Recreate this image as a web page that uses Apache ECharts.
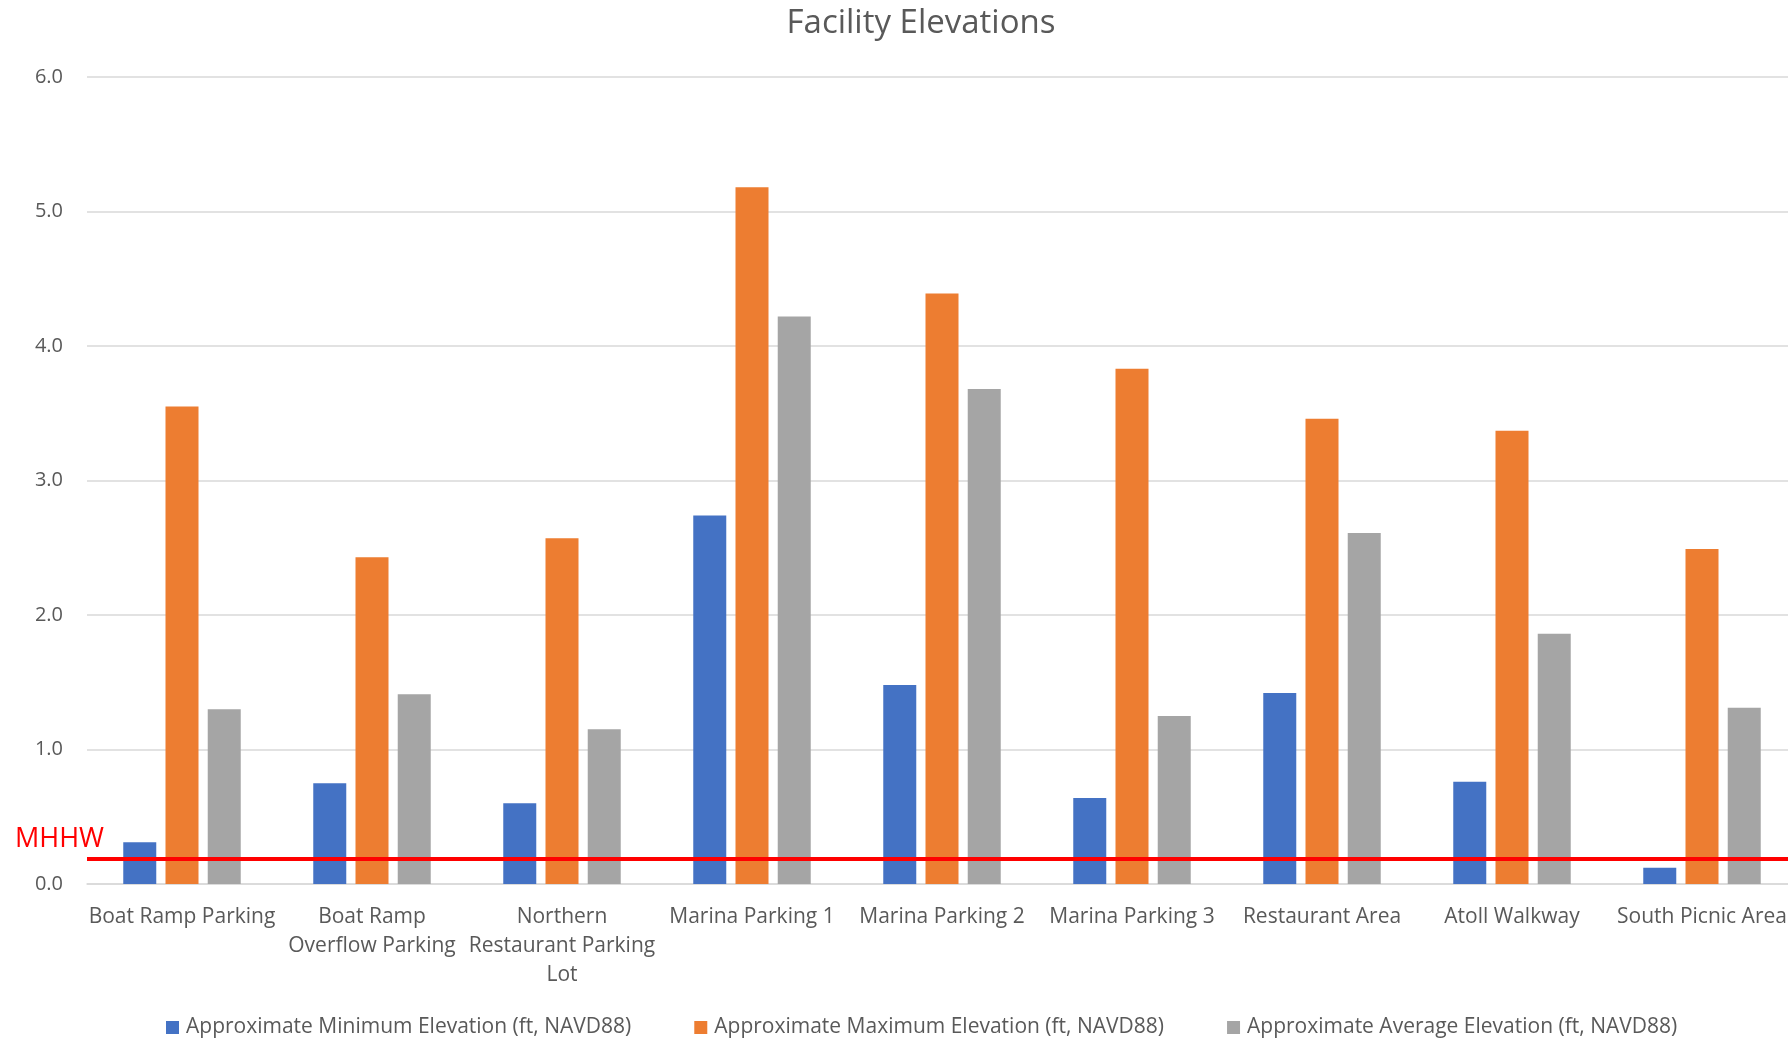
<!DOCTYPE html>
<html>
<head>
<meta charset="utf-8">
<title>Facility Elevations</title>
<script src="https://cdn.jsdelivr.net/npm/echarts@6/dist/echarts.min.js"></script>
<style>
  html, body { margin: 0; padding: 0; background: #ffffff; }
  #chart { width: 1788px; height: 1040px; }
</style>
</head>
<body>
<div id="chart"></div>
<script>
// Facilities (axis labels carry their own line breaks)
const categories = [
  'Boat Ramp Parking',
  'Boat Ramp\nOverflow Parking',
  'Northern\nRestaurant Parking\nLot',
  'Marina Parking 1',
  'Marina Parking 2',
  'Marina Parking 3',
  'Restaurant Area',
  'Atoll Walkway',
  'South Picnic Area'
];

// Elevations in ft, NAVD88
const minElevation = [0.31, 0.75, 0.60, 2.74, 1.48, 0.64, 1.42, 0.76, 0.12];
const maxElevation = [3.55, 2.43, 2.57, 5.18, 4.39, 3.83, 3.46, 3.37, 2.49];
const avgElevation = [1.30, 1.41, 1.15, 4.22, 3.68, 1.25, 2.61, 1.86, 1.31];

// Mean higher high water reference level
const mhhwLevel = 0.19;

// Value axis ticks
const yTicks = [0, 1, 2, 3, 4, 5, 6];

const seriesNames = [
  'Approximate Minimum Elevation (ft, NAVD88)',
  'Approximate Maximum Elevation (ft, NAVD88)',
  'Approximate Average Elevation (ft, NAVD88)'
];

const FONT = '"Open Sans", "Noto Sans", sans-serif';
const TEXT_COLOR = '#595959';
const GRID_COLOR = '#d9d9d9';

const chart = echarts.init(document.getElementById('chart'), null, { renderer: 'canvas' });

chart.setOption({
  animation: false,
  backgroundColor: '#ffffff',
  color: ['#4472C4', '#ED7D31', '#A5A5A5'],
  textStyle: { fontFamily: FONT },
  title: {
    text: 'Facility Elevations',
    left: 916,
    textAlign: 'center',
    top: 2,
    textStyle: { fontFamily: FONT, fontSize: 33, fontWeight: 'normal', color: TEXT_COLOR }
  },
  legend: {
    top: 1012,
    left: 161,
    itemWidth: 13,
    itemHeight: 13,
    itemGap: 63,
    icon: 'rect',
    textStyle: { fontFamily: FONT, fontSize: 21, color: TEXT_COLOR, padding: [0, 0, 0, 2] },
    data: seriesNames
  },
  // plot area runs slightly past the right edge of the canvas
  grid: {
    left: 87,
    width: 1710,
    top: 77,
    bottom: 156,
    containLabel: false,
    outerBoundsMode: 'none'
  },
  xAxis: {
    type: 'category',
    data: categories,
    axisLine: { lineStyle: { color: GRID_COLOR, width: 1.5 } },
    axisTick: { show: false },
    axisLabel: {
      interval: 0,
      margin: 19,
      fontFamily: FONT,
      fontSize: 21,
      lineHeight: 29,
      color: TEXT_COLOR
    }
  },
  yAxis: {
    type: 'value',
    min: yTicks[0],
    max: yTicks[yTicks.length - 1],
    interval: 1,
    axisLine: { show: false },
    axisTick: { show: false },
    splitLine: { lineStyle: { color: GRID_COLOR, width: 1.5 } },
    axisLabel: {
      margin: 24,
      fontFamily: FONT,
      fontSize: 20,
      color: TEXT_COLOR,
      formatter: v => v.toFixed(1)
    }
  },
  series: [
    {
      name: seriesNames[0],
      type: 'bar',
      barWidth: 33,
      barGap: '28%',
      data: minElevation,
      markLine: {
        silent: true,
        symbol: 'none',
        z: 10,
        lineStyle: { color: '#FF0000', width: 4, type: 'solid' },
        label: {
          show: true,
          formatter: 'MHHW',
          position: 'insideStartTop',
          distance: [0, 6],
          offset: [-72, 0],
          color: '#FF0000',
          fontFamily: FONT,
          fontSize: 27
        },
        data: [{ yAxis: mhhwLevel }]
      }
    },
    {
      name: seriesNames[1],
      type: 'bar',
      barWidth: 33,
      barGap: '28%',
      data: maxElevation
    },
    {
      name: seriesNames[2],
      type: 'bar',
      barWidth: 33,
      barGap: '28%',
      data: avgElevation
    }
  ]
});
</script>
</body>
</html>
